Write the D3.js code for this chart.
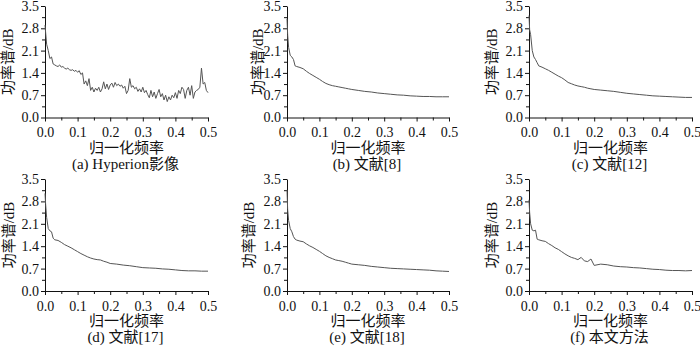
<!DOCTYPE html>
<html>
<head>
<meta charset="utf-8">
<script src="https://cdn.jsdelivr.net/npm/d3@7"></script>
<style>
  body { margin: 0; background: #fff; }
  svg { display: block; }
  .tick text { font-family: "Liberation Serif", "Noto Sans CJK SC", serif; font-size: 14px; fill: #111; }
  .lbl { font-family: "Liberation Serif", "Noto Sans CJK SC", serif; font-size: 15px; fill: #111; }
</style>
</head>
<body>
<svg id="chart" width="700" height="347"></svg>
<script>
// normalized frequency grid for panel (a), step 0.005
var freqA = d3.range(0, 101).map(function(i) { return i / 200; });
var hyperion = [2.9, 2.3, 2.1, 1.85, 1.9, 1.68, 1.65, 1.62, 1.6, 1.65,
    1.58, 1.6, 1.55, 1.52, 1.55, 1.5, 1.48, 1.5, 1.45, 1.48,
    1.42, 1.47, 1.35, 1.4, 1.05, 1.15, 1.0, 1.22, 0.85, 0.95,
    0.8, 0.92, 0.85, 0.95, 0.8, 0.9, 1.12, 0.9, 1.05, 0.88,
    1.02, 1.08, 0.95, 1.1, 1.0, 1.05, 0.98, 1.02, 0.92, 0.98,
    0.75, 0.85, 1.22, 0.95, 1.0, 0.9, 0.95, 0.82, 0.9, 0.8,
    0.95, 0.78, 0.85, 0.72, 0.62, 0.85, 0.65, 0.8, 0.6, 0.75,
    0.88, 0.65, 0.75, 0.55, 0.7, 0.5, 0.65, 0.55, 0.7, 0.62,
    0.78, 0.6, 0.85, 0.75, 0.95, 0.88, 0.6, 0.85, 0.95, 0.7,
    1.0, 0.6, 0.8, 0.85, 0.88, 0.95, 1.55, 1.05, 1.1, 0.85, 0.78];

// frequency grid for the smoother panels
var freq = [0, 0.002, 0.005, 0.01, 0.015, 0.02, 0.025, 0.03, 0.04, 0.05,
    0.06, 0.07, 0.08, 0.09, 0.1, 0.11, 0.12, 0.13, 0.14, 0.15,
    0.16, 0.17, 0.18, 0.19, 0.2, 0.22, 0.24, 0.26, 0.28, 0.3,
    0.32, 0.34, 0.36, 0.38, 0.4, 0.42, 0.44, 0.46, 0.48, 0.5];
var ref8 = [3.1, 2.6, 2.2, 1.95, 1.9, 1.82, 1.62, 1.6, 1.57, 1.53,
    1.45, 1.38, 1.32, 1.26, 1.2, 1.13, 1.07, 1.03, 1.0, 0.98,
    0.96, 0.94, 0.92, 0.9, 0.88, 0.85, 0.82, 0.8, 0.77, 0.75,
    0.73, 0.71, 0.7, 0.68, 0.67, 0.66, 0.66, 0.65, 0.65, 0.65];
var ref12 = [3.2, 2.75, 2.6, 2.1, 1.9, 1.82, 1.72, 1.62, 1.58, 1.53,
    1.48, 1.42, 1.36, 1.3, 1.25, 1.18, 1.1, 1.06, 1.02, 0.99,
    0.97, 0.95, 0.92, 0.9, 0.88, 0.86, 0.84, 0.82, 0.79, 0.76,
    0.74, 0.72, 0.7, 0.68, 0.67, 0.66, 0.65, 0.64, 0.63, 0.63];
var ref17 = [3.05, 2.7, 2.3, 1.95, 1.88, 1.85, 1.65, 1.6, 1.58, 1.52,
    1.45, 1.4, 1.35, 1.29, 1.23, 1.17, 1.12, 1.07, 1.03, 1.0,
    0.98, 0.97, 0.93, 0.9, 0.86, 0.84, 0.81, 0.79, 0.76, 0.73,
    0.72, 0.71, 0.69, 0.68, 0.66, 0.64, 0.63, 0.63, 0.62, 0.62];
var ref18 = [3.16, 2.55, 2.2, 1.95, 1.85, 1.7, 1.62, 1.59, 1.56, 1.54,
    1.47, 1.41, 1.36, 1.3, 1.24, 1.17, 1.1, 1.05, 1.01, 0.97,
    0.95, 0.93, 0.9, 0.87, 0.84, 0.82, 0.8, 0.77, 0.75, 0.73,
    0.71, 0.7, 0.69, 0.68, 0.67, 0.66, 0.65, 0.63, 0.62, 0.61];
var ours = [2.85, 2.45, 2.1, 1.9, 1.88, 1.9, 1.62, 1.6, 1.57, 1.55,
    1.48, 1.42, 1.35, 1.3, 1.23, 1.16, 1.1, 1.05, 1.02, 0.98,
    1.05, 0.94, 0.92, 1.0, 0.8, 0.84, 0.82, 0.78, 0.76, 0.75,
    0.73, 0.72, 0.7, 0.68, 0.67, 0.65, 0.64, 0.64, 0.63, 0.64];

var captions = ["(a) Hyperion影像", "(b) 文献[8]", "(c) 文献[12]",
    "(d) 文献[17]", "(e) 文献[18]", "(f) 本文方法"];
var xTicks = [0, 0.1, 0.2, 0.3, 0.4, 0.5];
var yTicks = [0, 0.7, 1.4, 2.1, 2.8, 3.5];
var xTitle = "归一化频率";
var yTitle = "功率谱/dB";

var panels = [
    { x: freqA, y: hyperion },
    { x: freq, y: ref8 },
    { x: freq, y: ref12 },
    { x: freq, y: ref17 },
    { x: freq, y: ref18 },
    { x: freq, y: ours }
];

// layout
var colX = [[45, 208], [287, 449], [529, 692]];
var rowY = [[6, 117.5], [179, 291]];
var yTitleOff = [-37, -29, -37, -36, -38, -37];

var svg = d3.select("#chart");

panels.forEach(function(p, i) {
    var c = colX[i % 3], r = rowY[Math.floor(i / 3)];
    var x = d3.scaleLinear().domain([0, 0.5]).range(c);
    var y = d3.scaleLinear().domain([0, 3.5]).range([r[1], r[0]]);
    var g = svg.append("g");

    // minor ticks
    g.append("g")
        .attr("transform", "translate(0," + r[1] + ")")
        .call(d3.axisBottom(x).tickValues(d3.range(0.05, 0.5, 0.1)).tickSize(3).tickFormat(""))
        .call(function(s) { s.select(".domain").remove(); });
    g.append("g")
        .attr("transform", "translate(" + c[0] + ",0)")
        .call(d3.axisLeft(y).tickValues(d3.range(0.35, 3.5, 0.7)).tickSize(3).tickFormat(""))
        .call(function(s) { s.select(".domain").remove(); });

    g.append("g")
        .attr("transform", "translate(0," + r[1] + ")")
        .call(d3.axisBottom(x).tickValues(xTicks).tickSize(4).tickSizeOuter(0).tickPadding(6)
            .tickFormat(d3.format(".1f")));
    g.append("g")
        .attr("transform", "translate(" + c[0] + ",0)")
        .call(d3.axisLeft(y).tickValues(yTicks).tickSize(4).tickSizeOuter(0).tickPadding(2)
            .tickFormat(d3.format(".1f")));
    g.selectAll(".domain, .tick line").attr("stroke", "#111");

    g.append("path")
        .datum(p.y)
        .attr("fill", "none")
        .attr("stroke", "#555")
        .attr("stroke-width", 1)
        .attr("d", d3.line().x(function(d, j) { return x(p.x[j]); }).y(function(d) { return y(d); }));

    g.append("text")
        .attr("class", "lbl")
        .attr("text-anchor", "middle")
        .attr("transform", "translate(" + (c[0] + yTitleOff[i]) + "," + ((r[0] + r[1]) / 2) + ") rotate(-90)")
        .attr("dy", "0.35em")
        .text(yTitle);

    g.append("text")
        .attr("class", "lbl")
        .attr("text-anchor", "middle")
        .attr("x", (c[0] + c[1]) / 2)
        .attr("y", r[1] + 35)
        .text(xTitle);

    g.append("text")
        .attr("class", "lbl")
        .attr("text-anchor", "middle")
        .attr("x", (c[0] + c[1]) / 2 - 1)
        .attr("y", r[1] + 51)
        .text(captions[i]);
});
</script>
</body>
</html>
